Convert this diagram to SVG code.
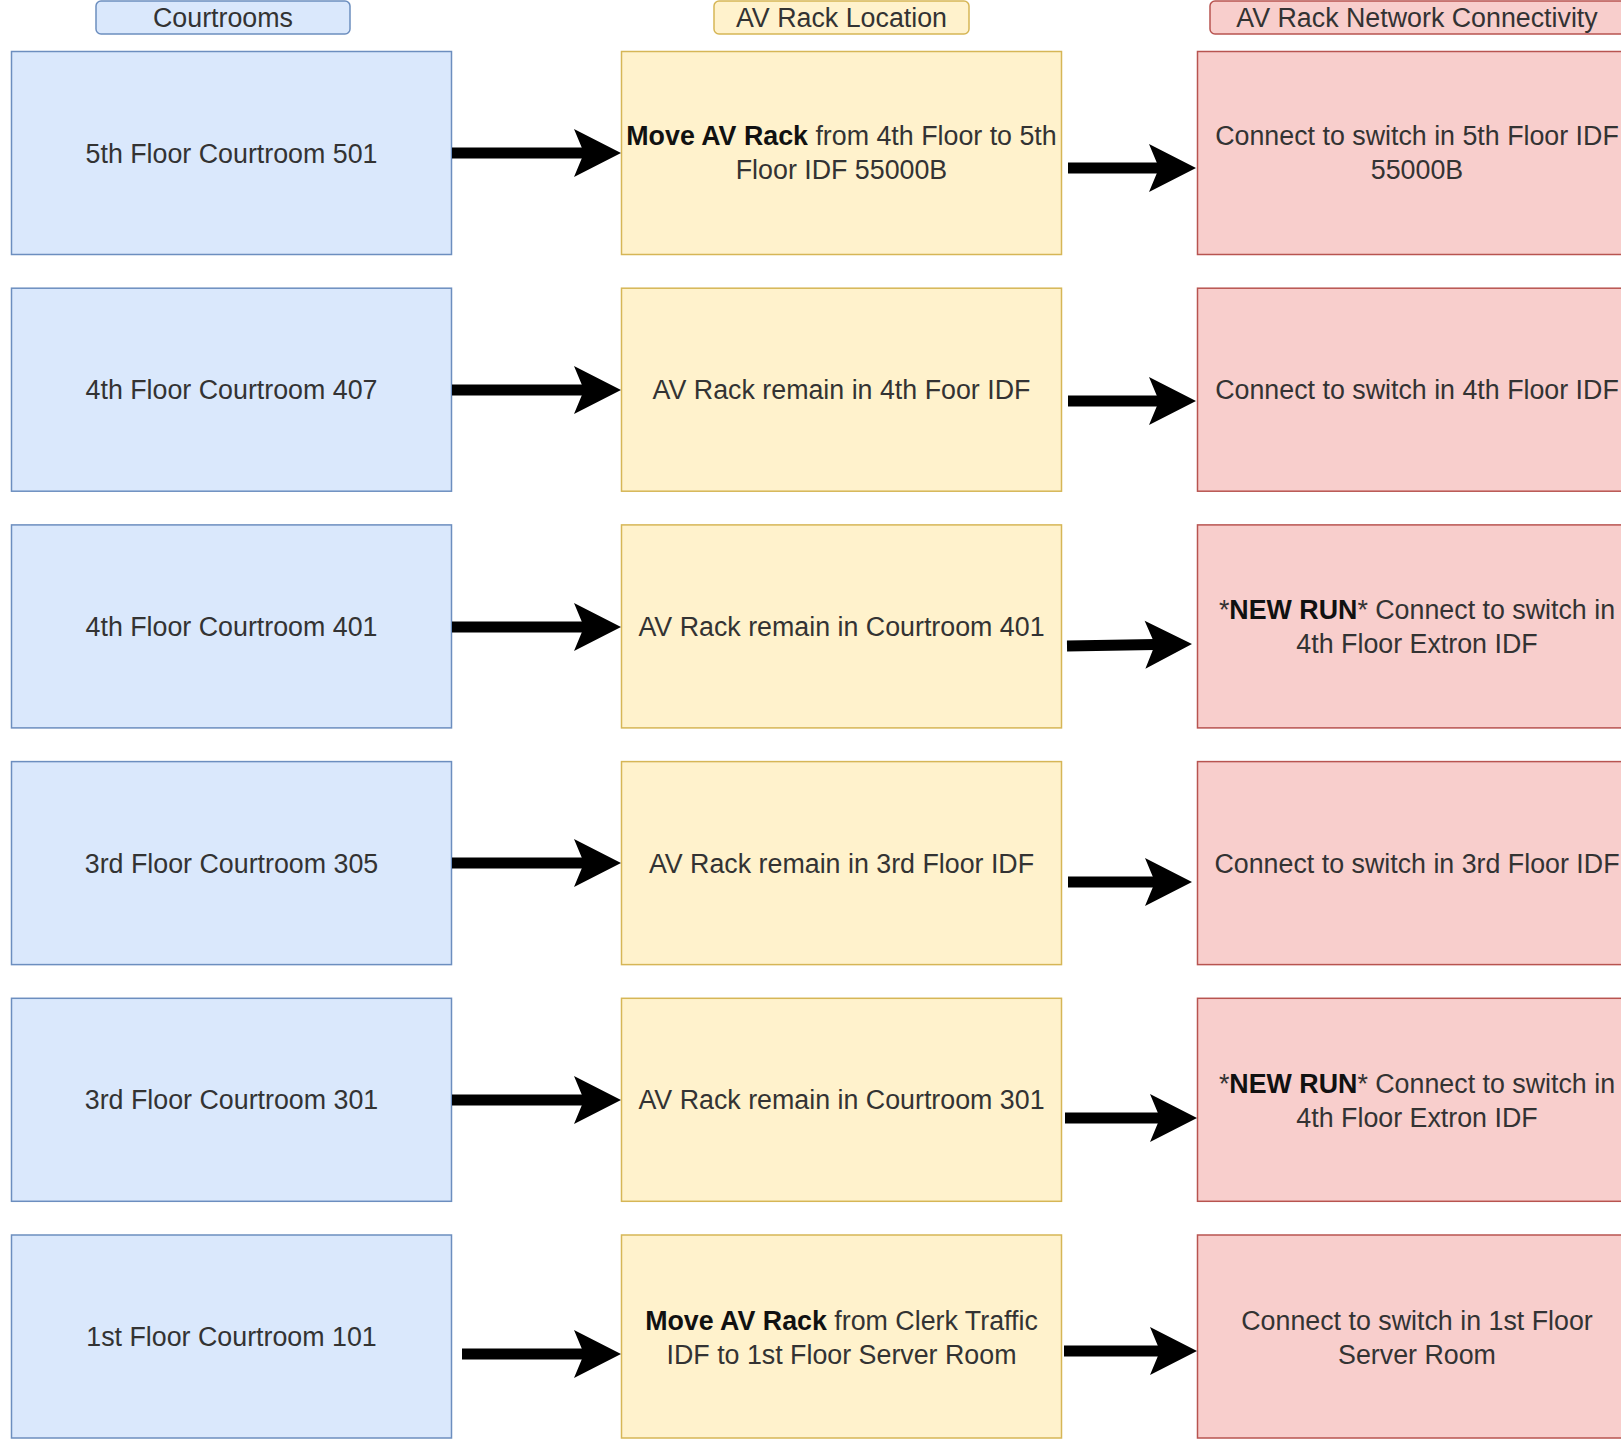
<svg xmlns="http://www.w3.org/2000/svg" width="1621" height="1440" viewBox="0 0 1621 1440">
<style>
text{font-family:"Liberation Sans",Arial,Helvetica,sans-serif;font-size:26.8px;fill:#333;text-anchor:middle}
.b{font-weight:bold;fill:#111}
.blue{fill:#dae8fc;stroke:#6c8ebf;stroke-width:1.5}
.yel{fill:#fff2cc;stroke:#d6b656;stroke-width:1.5}
.red{fill:#f8cecc;stroke:#b85450;stroke-width:1.5}
.c{fill:none;stroke:#000;stroke-width:11}
</style>
<defs>
<marker id="ah" markerUnits="userSpaceOnUse" markerWidth="47" markerHeight="48" viewBox="0 0 47 48" refX="10" refY="24" orient="auto" overflow="visible">
<path d="M0,0 L47,24 L0,48 L10,24 Z" fill="#000"/>
</marker>
</defs>
<rect width="1621" height="1440" fill="#fff"/>
<g id="hdr-courtrooms"><rect class="blue" x="96" y="1" width="254" height="33" rx="5"/><text x="223" y="27">Courtrooms</text></g>
<g id="hdr-location"><rect class="yel" x="714" y="1" width="255" height="33" rx="5"/><text x="841.5" y="27">AV Rack Location</text></g>
<g id="hdr-network"><rect class="red" x="1210" y="1" width="420" height="33" rx="5"/><text x="1417" y="27">AV Rack Network Connectivity</text></g>

<g id="c501"><rect class="blue" x="11.5" y="51.5" width="440" height="203"/><text x="231.5" y="162.5">5th Floor Courtroom 501</text></g>
<g id="c407"><rect class="blue" x="11.5" y="288.2" width="440" height="203"/><text x="231.5" y="399.2">4th Floor Courtroom 407</text></g>
<g id="c401"><rect class="blue" x="11.5" y="524.9" width="440" height="203"/><text x="231.5" y="635.9">4th Floor Courtroom 401</text></g>
<g id="c305"><rect class="blue" x="11.5" y="761.6" width="440" height="203"/><text x="231.5" y="872.6">3rd Floor Courtroom 305</text></g>
<g id="c301"><rect class="blue" x="11.5" y="998.3" width="440" height="203"/><text x="231.5" y="1109.3">3rd Floor Courtroom 301</text></g>
<g id="c101"><rect class="blue" x="11.5" y="1235" width="440" height="203"/><text x="231.5" y="1346">1st Floor Courtroom 101</text></g>

<g id="l501"><rect class="yel" x="621.5" y="51.5" width="440" height="203"/><text x="841.5" y="145"><tspan class="b">Move AV Rack</tspan> from 4th Floor to 5th</text><text x="841.5" y="179">Floor IDF 55000B</text></g>
<g id="l407"><rect class="yel" x="621.5" y="288.2" width="440" height="203"/><text x="841.5" y="399.2">AV Rack remain in 4th Foor IDF</text></g>
<g id="l401"><rect class="yel" x="621.5" y="524.9" width="440" height="203"/><text x="841.5" y="635.9">AV Rack remain in Courtroom 401</text></g>
<g id="l305"><rect class="yel" x="621.5" y="761.6" width="440" height="203"/><text x="841.5" y="872.6">AV Rack remain in 3rd Floor IDF</text></g>
<g id="l301"><rect class="yel" x="621.5" y="998.3" width="440" height="203"/><text x="841.5" y="1109.3">AV Rack remain in Courtroom 301</text></g>
<g id="l101"><rect class="yel" x="621.5" y="1235" width="440" height="203"/><text x="841.5" y="1329.5"><tspan class="b">Move AV Rack</tspan> from Clerk Traffic</text><text x="841.5" y="1363.5">IDF to 1st Floor Server Room</text></g>

<g id="n501"><rect class="red" x="1197.5" y="51.5" width="440" height="203"/><text x="1417" y="145">Connect to switch in 5th Floor IDF</text><text x="1417" y="179">55000B</text></g>
<g id="n407"><rect class="red" x="1197.5" y="288.2" width="440" height="203"/><text x="1417" y="399.2">Connect to switch in 4th Floor IDF</text></g>
<g id="n401"><rect class="red" x="1197.5" y="524.9" width="440" height="203"/><text x="1417" y="618.5">*<tspan class="b">NEW RUN</tspan>* Connect to switch in</text><text x="1417" y="652.5">4th Floor Extron IDF</text></g>
<g id="n305"><rect class="red" x="1197.5" y="761.6" width="440" height="203"/><text x="1417" y="872.6">Connect to switch in 3rd Floor IDF</text></g>
<g id="n301"><rect class="red" x="1197.5" y="998.3" width="440" height="203"/><text x="1417" y="1092.5">*<tspan class="b">NEW RUN</tspan>* Connect to switch in</text><text x="1417" y="1126.5">4th Floor Extron IDF</text></g>
<g id="n101"><rect class="red" x="1197.5" y="1235" width="440" height="203"/><text x="1417" y="1329.5">Connect to switch in 1st Floor</text><text x="1417" y="1363.5">Server Room</text></g>

<g id="connectors">
<path class="c" marker-end="url(#ah)" d="M452,153 L584,153"/>
<path class="c" marker-end="url(#ah)" d="M1068,168 L1159,168"/>
<path class="c" marker-end="url(#ah)" d="M452,390 L584,390"/>
<path class="c" marker-end="url(#ah)" d="M1068,401 L1159,401"/>
<path class="c" marker-end="url(#ah)" d="M452,627 L584,627"/>
<path class="c" marker-end="url(#ah)" d="M1067,646 L1155,644.6"/>
<path class="c" marker-end="url(#ah)" d="M452,863 L584,863"/>
<path class="c" marker-end="url(#ah)" d="M1068,882 L1155,882"/>
<path class="c" marker-end="url(#ah)" d="M452,1100 L584,1100"/>
<path class="c" marker-end="url(#ah)" d="M1065,1118 L1160,1118"/>
<path class="c" marker-end="url(#ah)" d="M462,1354 L584,1354"/>
<path class="c" marker-end="url(#ah)" d="M1064,1351 L1160,1351"/>
</g>
</svg>
